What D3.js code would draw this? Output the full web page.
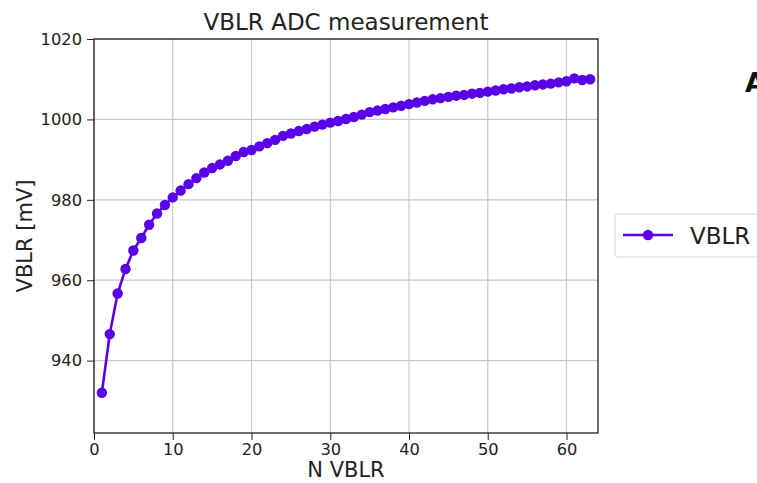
<!DOCTYPE html>
<html>
<head>
<meta charset="utf-8">
<script src="https://cdn.jsdelivr.net/npm/d3@7"></script>
<style>
  body { margin: 0; background: #fff; }
  svg { display: block; font-family: "DejaVu Sans", sans-serif; }
</style>
</head>
<body>
<div id="chart"></div>
<script>
const nVblr = d3.range(1, 64);
const vblrMv = [
  932.0, 946.6, 956.7, 962.8, 967.4, 970.5, 973.8, 976.6, 978.7, 980.6,
  982.3, 983.9, 985.4, 986.8, 987.9, 988.8, 989.7, 990.9, 991.9, 992.4,
  993.3, 994.1, 994.9, 995.9, 996.5, 997.1, 997.6, 998.2, 998.7, 999.2,
  999.6, 1000.1, 1000.6, 1001.2, 1001.8, 1002.2, 1002.6, 1003.0, 1003.4, 1003.8,
  1004.2, 1004.6, 1005.0, 1005.3, 1005.6, 1005.9, 1006.1, 1006.4, 1006.6, 1006.9,
  1007.2, 1007.5, 1007.7, 1008.0, 1008.2, 1008.5, 1008.7, 1008.9, 1009.2, 1009.5,
  1010.2, 1009.8, 1010.0
];
const xTicks = [0, 10, 20, 30, 40, 50, 60];
const yTicks = [940, 960, 980, 1000, 1020];

const color = "#5a00e8";
const width = 757, height = 483;
const margin = { left: 94, right: 159, top: 39, bottom: 50 };

const svg = d3.select("#chart").append("svg")
    .attr("width", width)
    .attr("height", height);

const x = d3.scaleLinear().domain([0, 64]).range([margin.left, width - margin.right]);
const y = d3.scaleLinear().domain([922, 1020]).range([height - margin.bottom, margin.top]);

// grid
svg.append("g").selectAll("line").data(xTicks).enter().append("line")
    .attr("x1", d => x(d)).attr("x2", d => x(d))
    .attr("y1", y(922)).attr("y2", y(1020))
    .attr("stroke", "#c8c8c8").attr("stroke-width", 1.2);
svg.append("g").selectAll("line").data(yTicks).enter().append("line")
    .attr("x1", x(0)).attr("x2", x(64))
    .attr("y1", d => y(d)).attr("y2", d => y(d))
    .attr("stroke", "#c8c8c8").attr("stroke-width", 1.2);

// axes
const xAxis = svg.append("g")
    .attr("transform", `translate(0,${y(922)})`)
    .call(d3.axisBottom(x).tickValues(xTicks).tickFormat(d3.format("d")).tickSize(7).tickPadding(3));
const yAxis = svg.append("g")
    .attr("transform", `translate(${x(0)},0)`)
    .call(d3.axisLeft(y).tickValues(yTicks).tickFormat(d3.format("d")).tickSize(7).tickPadding(5));
[xAxis, yAxis].forEach(g => {
    g.select(".domain").remove();
    g.selectAll("text").attr("font-size", 16.3).attr("fill", "#222").attr("font-family", "DejaVu Sans");
    g.selectAll("line").attr("stroke", "#222");
});

// frame
svg.append("rect")
    .attr("x", x(0)).attr("y", y(1020))
    .attr("width", x(64) - x(0)).attr("height", y(922) - y(1020))
    .attr("fill", "none").attr("stroke", "#222").attr("stroke-width", 1.3);

// series
const line = d3.line().x((d, i) => x(nVblr[i])).y(d => y(d));
svg.append("path")
    .datum(vblrMv)
    .attr("d", line)
    .attr("fill", "none")
    .attr("stroke", color)
    .attr("stroke-width", 2.6);
svg.append("g").selectAll("circle").data(vblrMv).enter().append("circle")
    .attr("cx", (d, i) => x(nVblr[i]))
    .attr("cy", d => y(d))
    .attr("r", 5.2)
    .attr("fill", color);

// labels
svg.append("text")
    .attr("x", (x(0) + x(64)) / 2).attr("y", 30)
    .attr("text-anchor", "middle").attr("font-size", 23).attr("fill", "#222")
    .text("VBLR ADC measurement");
svg.append("text")
    .attr("x", (x(0) + x(64)) / 2).attr("y", 477)
    .attr("text-anchor", "middle").attr("font-size", 21).attr("fill", "#222")
    .text("N VBLR");
svg.append("text")
    .attr("transform", `translate(32,${(y(922) + y(1020)) / 2}) rotate(-90)`)
    .attr("text-anchor", "middle").attr("font-size", 21).attr("fill", "#222")
    .text("VBLR [mV]");

// legend
const legend = svg.append("g").attr("transform", "translate(615,214)");
legend.append("rect")
    .attr("width", 160).attr("height", 43).attr("rx", 3)
    .attr("fill", "#fff").attr("stroke", "#d6d6d6");
legend.append("line")
    .attr("x1", 8).attr("x2", 58).attr("y1", 21).attr("y2", 21)
    .attr("stroke", color).attr("stroke-width", 2.6);
legend.append("circle").attr("cx", 33).attr("cy", 21).attr("r", 5.2).attr("fill", color);
legend.append("text")
    .attr("x", 75).attr("y", 29.5).attr("font-size", 23).attr("fill", "#222")
    .text("VBLR");

svg.append("text")
    .attr("x", 745).attr("y", 92)
    .attr("font-size", 27).attr("font-weight", "bold").attr("fill", "#111")
    .text("A");
</script>
</body>
</html>
